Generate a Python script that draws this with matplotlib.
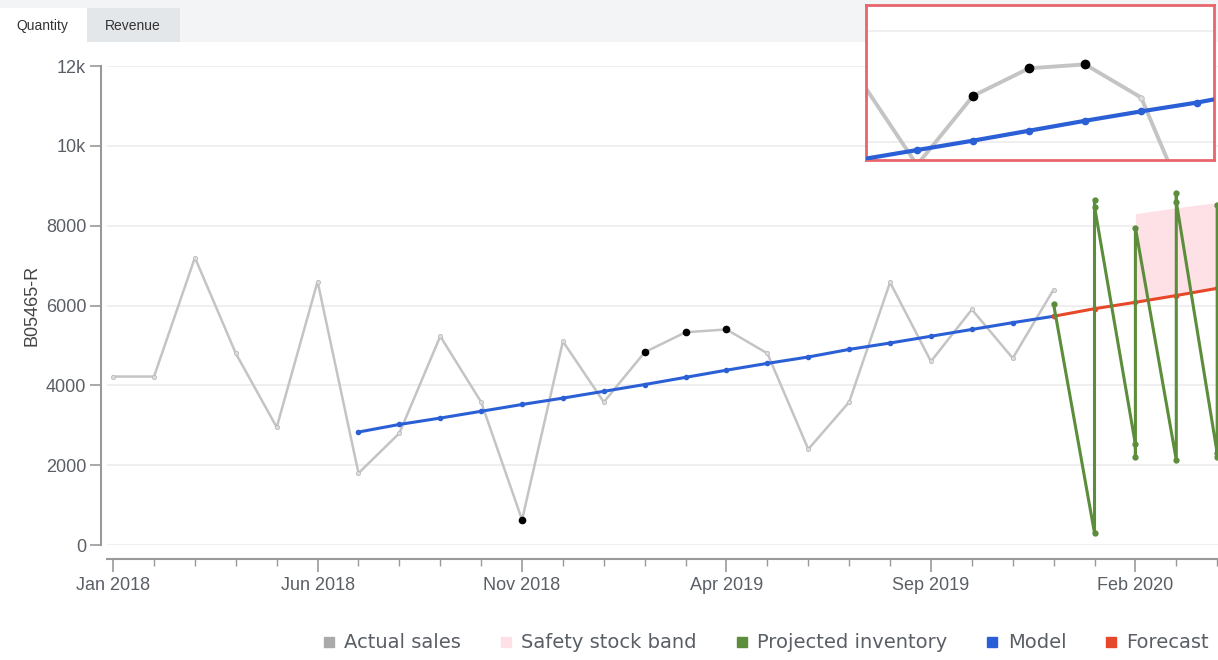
import matplotlib.pyplot as plt
from matplotlib.lines import Line2D
from matplotlib.patches import Rectangle

# -------------------------------
# Data (month index 0 = Jan 2018)
# -------------------------------
sales_months = list(range(24))  # Jan 2018 .. Dec 2019
sales = [4220, 4220, 7200, 4800, 2950, 6600, 1800, 2800, 5230, 3580, 630, 5100,
         3580, 4830, 5330, 5400, 4800, 2400, 3580, 6580, 4600, 5900, 4680, 6400]
highlight_months = [10, 13, 14, 15]

model_months = list(range(6, 24))  # Jul 2018 .. Dec 2019
model = [2830, 3020, 3180, 3350, 3520, 3680, 3850, 4020, 4200, 4380, 4550, 4710,
         4900, 5060, 5230, 5400, 5570, 5730]

forecast_months = [23, 24, 25, 26, 27]
forecast = [5730, 5920, 6080, 6250, 6430]

inv_months = [23, 24, 24, 24, 25, 25, 25, 26, 26, 26, 27, 27, 27]
inventory = [6030, 300, 8650, 8480, 2520, 2200, 7950, 2130, 8830, 8600, 2300, 2200, 8520]

band_months = [25, 26, 27]
band_low = [6080, 6250, 6430]
band_high = [8300, 8450, 8580]

tick_months = [0, 5, 10, 15, 20, 25]
tick_labels = ['Jan 2018', 'Jun 2018', 'Nov 2018', 'Apr 2019', 'Sep 2019', 'Feb 2020']
y_ticks = [0, 2000, 4000, 6000, 8000, 10000, 12000]
y_labels = ['0', '2000', '4000', '6000', '8000', '10k', '12k']

# colours
c_sales = '#c4c4c4'
c_band = '#fde1e7'
c_inv = '#5b8d3b'
c_model = '#2b5fd6'
c_fc = '#e8482a'
c_text = '#5a5f66'

plt.rcParams['font.family'] = ['Liberation Sans', 'DejaVu Sans']

W, H = 1218, 660
fig = plt.figure(figsize=(W / 100, H / 100), dpi=100)

# top tab strip
for x0, w0, y0, h0, fc in [(0, W, 0, 42, '#f3f4f6'), (0, 87, 8, 34, 'white'),
                           (87, 93, 8, 34, '#e4e7ea')]:
    fig.patches.append(Rectangle((x0 / W, 1 - (y0 + h0) / H), w0 / W, h0 / H,
                                 transform=fig.transFigure, facecolor=fc,
                                 edgecolor='none', zorder=-10))
fig.text(42 / W, 1 - 26 / H, 'Quantity', ha='center', va='center', fontsize=10, color='#333333')
fig.text(133 / W, 1 - 26 / H, 'Revenue', ha='center', va='center', fontsize=10, color='#333333')

# main axes
left, right, top, bottom = 107, 1218, 66, 545
ax = fig.add_axes([left / W, 1 - bottom / H, (right - left) / W, (bottom - top) / H])
ax.set_xlim(-0.15, 27.02)
ax.set_ylim(0, 12000)
ax.patch.set_alpha(0)

ax.fill_between(band_months, band_low, band_high, color=c_band, lw=0, zorder=1)
ax.plot(sales_months, sales, color=c_sales, lw=1.8, marker='o', ms=3,
        mfc='#dddddd', mec='#bbbbbb', mew=0.6, zorder=2)
ax.plot(highlight_months, [sales[m] for m in highlight_months], 'o', color='black',
        ms=4.5, zorder=5)
ax.plot(model_months, model, color=c_model, lw=2.2, marker='o', ms=3, zorder=3)
ax.plot(forecast_months, forecast, color=c_fc, lw=2.2, marker='o', ms=3, zorder=3,
        clip_on=False)
ax.plot(inv_months, inventory, color=c_inv, lw=2.2, marker='o', ms=3.5, zorder=4,
        clip_on=False)

ax.set_yticks(y_ticks)
ax.set_yticklabels(y_labels)
ax.set_xticks(tick_months)
ax.set_xticklabels(tick_labels)
ax.set_xticks(range(28), minor=True)
ax.grid(axis='y', color='#ececec', lw=1.2)
ax.set_axisbelow(True)

for s in ['top', 'right']:
    ax.spines[s].set_visible(False)
ax.spines['left'].set_position(('outward', 4))
ax.spines['bottom'].set_position(('outward', 10))
ax.spines['left'].set_color('#999999')
ax.spines['bottom'].set_color('#999999')
ax.spines['left'].set_linewidth(1.5)
ax.spines['bottom'].set_linewidth(1.5)
ax.tick_params(axis='y', length=8, width=1.2, color='#999999', labelsize=13,
               labelcolor=c_text, pad=3)
ax.tick_params(axis='x', which='major', length=9, width=1.2, color='#999999',
               labelsize=13, labelcolor=c_text, pad=4)
ax.tick_params(axis='x', which='minor', length=5, width=1.0, color='#999999')
ax.set_ylabel('B05465-R', fontsize=13, color='#444444', labelpad=4)

# zoom inset
ins = fig.add_axes([866 / W, 1 - 160 / H, 348 / W, 155 / H])
ins.set_zorder(10)
ins.set_xlim(11.09, 17.3)
ins.set_ylim(3670, 6475)
ins.plot(sales_months, sales, color=c_sales, lw=2.8, marker='o', ms=4,
         mfc='#dddddd', mec='#bbbbbb', mew=0.6)
ins.plot(highlight_months, [sales[m] for m in highlight_months], 'o', color='black', ms=6,
         zorder=5)
ins.plot(model_months, model, color=c_model, lw=3, marker='o', ms=4.5, zorder=3)
ins.set_yticks([4000, 6000])
ins.set_xticks([])
ins.tick_params(axis='y', length=0, labelleft=False)
ins.grid(axis='y', color='#ececec', lw=1.2)
ins.set_axisbelow(True)
for s in ins.spines.values():
    s.set_color('#e9656c')
    s.set_linewidth(2)

# legend
handles = [Line2D([], [], ls='none', marker='s', ms=7, color=c)
           for c in ['#aaaaaa', c_band, c_inv, c_model, c_fc]]
names = ['Actual sales', 'Safety stock band', 'Projected inventory', 'Model', 'Forecast']
fig.legend(handles, names, loc='center', bbox_to_anchor=(765 / W, 1 - 643 / H), ncol=5,
           frameon=False, prop={'family': 'DejaVu Sans', 'size': 14}, handlelength=0.8,
           handletextpad=0.4, columnspacing=1.9, labelcolor=c_text)

fig.savefig('out.png', dpi=100)
